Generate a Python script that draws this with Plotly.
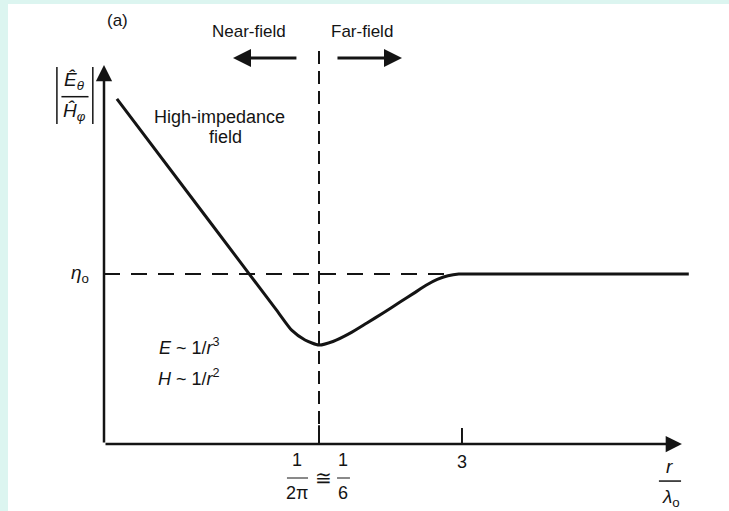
import plotly.graph_objects as go

# Wave-impedance |E/H| versus distance (schematic), in units of eta0.
# x is a schematic distance axis where 1.0 marks r/lambda0 = 1/(2*pi).
curve_x = [0.06, 0.50, 0.80, 0.874, 0.935, 1.00, 1.065, 1.145, 1.223, 1.30, 1.377, 1.44, 1.50, 1.55, 1.60, 1.65, 1.70, 2.72]
curve_y = [2.03, 1.294, 0.792, 0.668, 0.612, 0.582, 0.603, 0.652, 0.712, 0.772, 0.835, 0.886, 0.935, 0.968, 0.990, 1.0, 1.0, 1.0]

eta0 = 1.0            # free-space impedance level
boundary_x = 1.0      # near-field / far-field boundary (1/2pi ~ 1/6)
tick3_x = 1.665       # position of the "3" tick
x_end = 2.688         # tip of the x-axis arrow
y_top = 2.229         # tip of the y-axis arrow
vline_top = 2.33      # top of the boundary line

INK = "#141414"
FONT = "Liberation Sans, Arial, sans-serif"

fig = go.Figure()

fig.add_trace(go.Scatter(
    x=curve_x, y=curve_y, mode="lines",
    line=dict(color=INK, width=3, shape="spline", smoothing=0.6),
    hoverinfo="skip", showlegend=False,
))

shapes = [
    # white sheet over the tinted page
    dict(type="rect", xref="paper", yref="paper", x0=0.011, x1=1.0, y0=0.0, y1=0.9922,
         fillcolor="white", line=dict(width=0), layer="below"),
    # eta0 reference (dashed)
    dict(type="line", x0=0, x1=1.63, y0=eta0, y1=eta0,
         line=dict(color=INK, width=2, dash="16px,11px")),
    # near/far boundary (dashed)
    dict(type="line", x0=boundary_x, x1=boundary_x, y0=0, y1=vline_top,
         line=dict(color=INK, width=2, dash="13px,7px")),
    # ticks
    dict(type="line", x0=boundary_x, x1=boundary_x, y0=0, y1=0.11, line=dict(color=INK, width=2)),
    dict(type="line", x0=tick3_x, x1=tick3_x, y0=0, y1=0.094, line=dict(color=INK, width=2)),
    # fraction bars in tick labels
    dict(type="line", x0=0.851, x1=0.949, y0=-0.2, y1=-0.2, line=dict(color=INK, width=1)),
    dict(type="line", x0=1.084, x1=1.144, y0=-0.2, y1=-0.2, line=dict(color=INK, width=1)),
    # r / lambda0 fraction bar
    dict(type="line", x0=2.581, x1=2.684, y0=-0.218, y1=-0.218, line=dict(color=INK, width=1.5)),
    # y-label: |E/H| bars and fraction line
    dict(type="line", x0=-0.219, x1=-0.219, y0=1.882, y1=2.218, line=dict(color=INK, width=1.5)),
    dict(type="line", x0=-0.052, x1=-0.052, y0=1.882, y1=2.218, line=dict(color=INK, width=1.5)),
    dict(type="line", x0=-0.198, x1=-0.072, y0=2.043, y1=2.043, line=dict(color=INK, width=1.5)),
]

def arrow(x0, y0, x1, y1, width=2.5, size=1.3):
    return dict(x=x1, y=y1, ax=x0, ay=y0, xref="x", yref="y", axref="x", ayref="y",
                text="", showarrow=True, arrowhead=2, arrowsize=size, arrowwidth=width,
                arrowcolor=INK, standoff=0, startstandoff=0)

def label(x, y, text, size=18, xanchor="center"):
    return dict(x=x, y=y, xref="x", yref="y", text=text, showarrow=False,
                xanchor=xanchor, yanchor="middle",
                font=dict(family=FONT, size=size, color=INK))

annotations = [
    # axes
    arrow(0, 0, x_end, 0),
    arrow(0, 0, 0, y_top),
    # near / far field arrows
    arrow(0.902, 2.271, 0.600, 2.271, width=3, size=1.2),
    arrow(1.079, 2.271, 1.386, 2.271, width=3, size=1.2),
    label(0.065, 2.494, "(a)", size=17),
    label(0.674, 2.429, "Near-field", size=17),
    label(1.200, 2.429, "Far-field", size=17),
    label(0.535, 1.924, "High-impedance"),
    label(0.567, 1.806, "field"),
    label(0.247, 0.571, "<i>E</i> ~ 1/<i>r</i><sup>3</sup>", xanchor="left"),
    label(0.240, 0.394, "<i>H</i> ~ 1/<i>r</i><sup>2</sup>", xanchor="left"),
    label(-0.112, eta0, "<i>η</i><sub>o</sub>", size=19),
    # y label
    label(-0.135, 2.134, "<i>Ê</i><sub><i>θ</i></sub>", size=19),
    label(-0.135, 1.955, "<i>Ĥ</i><sub><i>φ</i></sub>", size=19),
    # tick labels
    label(0.898, -0.094, "1"),
    label(0.898, -0.288, "2π"),
    label(1.019, -0.200, "≅", size=20),
    label(1.112, -0.094, "1"),
    label(1.112, -0.288, "6"),
    label(tick3_x, -0.106, "3"),
    # x label
    label(2.630, -0.135, "<i>r</i>", size=19),
    label(2.635, -0.315, "<i>λ</i><sub>o</sub>", size=19),
]

fig.update_layout(
    width=729, height=511,
    margin=dict(l=0, r=0, t=0, b=0),
    paper_bgcolor="#dcf5f0",
    plot_bgcolor="rgba(0,0,0,0)",
    shapes=shapes,
    annotations=annotations,
    xaxis=dict(range=[-0.48372, 2.90698], visible=False, fixedrange=True),
    yaxis=dict(range=[-0.39412, 2.61176], visible=False, fixedrange=True),
    showlegend=False,
)

fig.write_html("out.html")
